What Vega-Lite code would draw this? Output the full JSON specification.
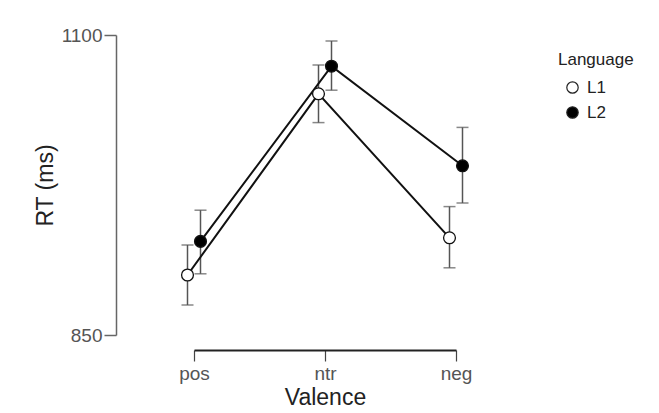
{
  "$schema": "https://vega.github.io/schema/vega-lite/v6.json",
  "autosize": "none",
  "padding": {"left": 194, "top": 35, "right": 203, "bottom": 78},
  "width": 262,
  "height": 300,
  "background": "white",
  "config": {"view": {"stroke": null}, "font": "Liberation Sans", "axis": {"grid": false}},
  "data": {"values": [
    {"Valence": "pos", "Language": "L1", "RT": 900, "lo": 875, "hi": 925},
    {"Valence": "pos", "Language": "L2", "RT": 928, "lo": 901, "hi": 954},
    {"Valence": "ntr", "Language": "L1", "RT": 1051, "lo": 1027, "hi": 1075},
    {"Valence": "ntr", "Language": "L2", "RT": 1074, "lo": 1054, "hi": 1095},
    {"Valence": "neg", "Language": "L1", "RT": 931, "lo": 906, "hi": 957},
    {"Valence": "neg", "Language": "L2", "RT": 991, "lo": 960, "hi": 1023}
  ]},
  "encoding": {
    "x": {
      "field": "Valence", "type": "nominal", "sort": ["pos", "ntr", "neg"],
      "scale": {"type": "point", "padding": 0},
      "axis": {
        "title": "Valence", "titleFontSize": 23, "titleFontWeight": "normal", "titleColor": "#222",
        "labelFontSize": 19, "labelColor": "#555", "labelPadding": 3, "labelAngle": 0,
        "offset": 15, "domainColor": "#222", "domainWidth": 2,
        "tickColor": "#444", "tickWidth": 1.2, "tickSize": 11, "titlePadding": 3
      }
    },
    "xOffset": {"field": "Language", "type": "nominal", "scale": {"type": "point", "range": [-6.5, 6.5], "padding": 0}}
  },
  "layer": [
    {
      "mark": {"type": "rule", "color": "#555", "strokeWidth": 1.5},
      "encoding": {
        "y": {"field": "lo", "type": "quantitative", "scale": {"domain": [850, 1100], "nice": false, "zero": false},
          "axis": {
            "title": "RT (ms)", "values": [850, 1100], "format": "d", "offset": 78,
            "domainColor": "#666", "domainWidth": 1.5, "tickColor": "#666", "tickSize": 12, "tickWidth": 1.5,
            "labelFontSize": 19, "labelColor": "#555", "labelPadding": 2,
            "titleFontSize": 23, "titleFontWeight": "normal", "titleColor": "#222", "titlePadding": 4
          }},
        "y2": {"field": "hi"}
      }
    },
    {
      "mark": {"type": "tick", "color": "#555", "thickness": 1.5, "size": 12},
      "encoding": {"y": {"field": "lo", "type": "quantitative"}}
    },
    {
      "mark": {"type": "tick", "color": "#555", "thickness": 1.5, "size": 12},
      "encoding": {"y": {"field": "hi", "type": "quantitative"}}
    },
    {
      "mark": {"type": "line", "color": "#111", "strokeWidth": 2},
      "encoding": {
        "y": {"field": "RT", "type": "quantitative"},
        "detail": {"field": "Language", "type": "nominal"}
      }
    },
    {
      "mark": {"type": "point", "shape": "circle", "filled": true, "size": 140, "stroke": "#111", "strokeWidth": 1.3, "opacity": 1},
      "encoding": {
        "y": {"field": "RT", "type": "quantitative"},
        "fill": {
          "field": "Language", "type": "nominal",
          "scale": {"domain": ["L1", "L2"], "range": ["white", "black"]},
          "legend": {
            "orient": "none", "legendX": 364, "legendY": 17, "padding": 0,
            "title": "Language", "titleFontSize": 17, "titleFontWeight": "normal", "titleColor": "#222",
            "labelFontSize": 17, "labelColor": "#222", "symbolType": "circle", "symbolSize": 130,
            "symbolStrokeColor": "#222", "symbolStrokeWidth": 1.2, "symbolOffset": 6, "labelOffset": 6,
            "rowPadding": 7, "titlePadding": 10
          }
        }
      }
    }
  ]
}
